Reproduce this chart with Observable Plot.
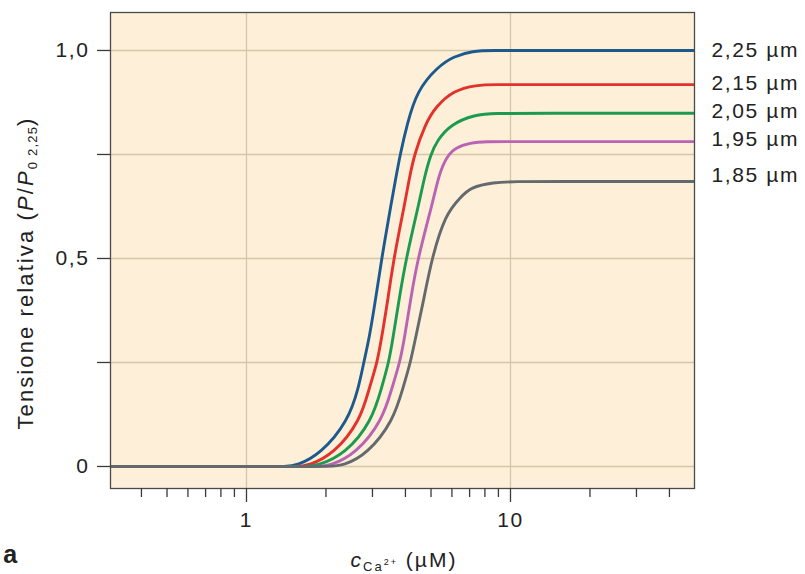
<!DOCTYPE html>
<html>
<head>
<meta charset="utf-8">
<script src="https://cdn.jsdelivr.net/npm/d3@7"></script>
<script src="https://cdn.jsdelivr.net/npm/@observablehq/plot@0.6"></script>
<style>
  body { margin: 0; background: #ffffff; }
  #chart svg { display: block; }
</style>
</head>
<body>
<div id="chart"></div>
<script>
// Sarcomere lengths (one curve each) and their line colours
const lengths = ["2,25 µm", "2,15 µm", "2,05 µm", "1,95 µm", "1,85 µm"];
const colors  = ["#1c5a8e", "#e2322b", "#1c9a50", "#b963b3", "#64696e"];

// Relative tension vs. Ca2+ concentration (µM), one pair of arrays per length
const x225 = [0.3, 0.8, 1.2, 1.4, 1.55, 1.91, 2.43, 2.66, 2.78, 2.92, 3.08, 3.25, 3.55, 3.67, 3.82, 4.06, 4.43, 5.28, 6.08, 7.2, 8.5, 12, 50];
const y225 = [0,   0,   0,   0,   0.002, 0.03, 0.11, 0.19, 0.25, 0.31, 0.40, 0.50, 0.64, 0.69, 0.75, 0.824, 0.904, 0.96, 0.986, 0.999, 1.0, 1.0, 1.0];

const x215 = [0.3, 0.8, 1.3, 1.55, 1.72, 2.14, 2.70, 2.92, 3.13, 3.27, 3.43, 3.61, 4.00, 4.13, 4.32, 4.76, 5.20, 6.08, 7.4, 8.8, 12, 50];
const y215 = [0,   0,   0,   0,    0.002, 0.03, 0.11, 0.19, 0.25, 0.32, 0.40, 0.50, 0.64, 0.69, 0.75, 0.824, 0.864, 0.904, 0.917, 0.918, 0.918, 0.918];

const x205 = [0.3, 0.8, 1.4, 1.68, 1.86, 2.37, 2.99, 3.25, 3.46, 3.59, 3.78, 4.02, 4.53, 4.70, 4.98, 5.28, 5.93, 7.3, 8.8, 12, 50];
const y205 = [0,   0,   0,   0,    0.002, 0.03, 0.11, 0.19, 0.25, 0.31, 0.40, 0.50, 0.64, 0.69, 0.75, 0.784, 0.822, 0.846, 0.849, 0.849, 0.849];

const x195 = [0.3, 0.8, 1.5, 1.85, 2.08, 2.59, 3.27, 3.56, 3.81, 3.97, 4.18, 4.45, 5.10, 5.35, 5.72, 6.20, 7.0, 8.2, 9.6, 12, 50];
const y195 = [0,   0,   0,   0,    0.002, 0.03, 0.11, 0.19, 0.25, 0.31, 0.40, 0.50, 0.64, 0.70, 0.745, 0.767, 0.778, 0.781, 0.781, 0.781, 0.781];

const x185 = [0.3, 0.8, 1.6, 2.05, 2.33, 2.87, 3.60, 3.92, 4.18, 4.37, 4.69, 5.03, 5.67, 6.47, 7.05, 8.6, 10.5, 14, 50];
const y185 = [0,   0,   0,   0,    0.002, 0.03, 0.11, 0.19, 0.25, 0.31, 0.40, 0.50, 0.607, 0.647, 0.671, 0.683, 0.685, 0.685, 0.685];

// Where each length label sits on the tension axis
const labelAt = [1.0, 0.921, 0.853, 0.786, 0.700];

// Axis ticks
const yTicks = [0, 0.25, 0.5, 0.75, 1];
const yTickLabels = ["0", "", "0,5", "", "1,0"];
const xMajor = [1, 10];
const xMinor = [0.4, 0.5, 0.6, 0.7, 0.8, 0.9, 2, 3, 4, 5, 6, 7, 8, 9, 20, 30, 40];

const seriesX = [x225, x215, x205, x195, x185];
const seriesY = [y225, y215, y205, y195, y185];
const rows = lengths.flatMap((len, k) =>
  seriesX[k].map((x, i) => ({len, x, y: seriesY[k][i]}))
);
const labels = lengths.map((len, k) => ({len, y: labelAt[k]}));

const xDomain = [0.3054, 49.77];
const yDomain = [-0.0529, 1.0913];
const font = "'Liberation Sans', Arial, Helvetica, sans-serif";

const chart = Plot.plot({
  width: 805,
  height: 574,
  marginLeft: 110,
  marginRight: 111,
  marginTop: 12,
  marginBottom: 86,
  style: {fontFamily: font, fontSize: "21px", color: "#222", background: "#ffffff", letterSpacing: "1.6px"},
  x: {type: "log", domain: xDomain},
  y: {domain: yDomain},
  color: {domain: lengths, range: colors},
  marks: [
    Plot.frame({fill: "#fdefd8", stroke: null}),
    Plot.gridX(xMajor, {stroke: "#d6c6a8", strokeOpacity: 1, strokeWidth: 1.3}),
    Plot.gridY(yTicks, {stroke: "#d6c6a8", strokeOpacity: 1, strokeWidth: 1.3}),
    Plot.line(rows, {x: "x", y: "y", z: "len", stroke: "len", strokeWidth: 2.9, curve: "basis", clip: true}),
    Plot.frame({stroke: "#4a4a4a", strokeWidth: 1.3}),
    Plot.axisY({
      ticks: yTicks, tickSize: 13, tickPadding: 8, stroke: "#3a3a3a", strokeWidth: 1.3,
      tickFormat: d => yTickLabels[yTicks.indexOf(d)], label: null, fontSize: 21
    }),
    Plot.axisX({
      ticks: xMajor, tickSize: 14, tickPadding: 10, stroke: "#3a3a3a", strokeWidth: 1.3,
      tickFormat: d => String(d), label: null, fontSize: 21
    }),
    Plot.axisX({
      ticks: xMinor, tickSize: 9, stroke: "#3a3a3a", strokeWidth: 1.3,
      tickFormat: () => "", label: null
    }),
    Plot.text(labels, {
      x: () => xDomain[1], y: "y", text: "len", dx: 17, textAnchor: "start",
      fontSize: 21, fill: "#222"
    })
  ]
});

const svg = d3.select(chart);

// Y-axis title: Tensione relativa (P/P0 2,25)
const yTitle = svg.append("text")
  .attr("transform", "translate(33,273) rotate(-90)")
  .attr("text-anchor", "middle")
  .attr("font-family", font)
  .attr("font-size", 22)
  .attr("letter-spacing", "2.1px")
  .attr("fill", "#222");
yTitle.append("tspan").text("Tensione relativa (");
yTitle.append("tspan").attr("font-style", "italic").text("P");
yTitle.append("tspan").text("/");
yTitle.append("tspan").attr("font-style", "italic").text("P");
yTitle.append("tspan").attr("font-size", 13).attr("dy", 4).attr("letter-spacing", "1.2px").text("0 2,25");
yTitle.append("tspan").attr("dy", -4).text(")");

// X-axis title: c Ca2+ (µM)
const xTitle = svg.append("text")
  .attr("x", 404).attr("y", 567)
  .attr("text-anchor", "middle")
  .attr("font-family", font)
  .attr("font-size", 21)
  .attr("letter-spacing", "2px")
  .attr("fill", "#222");
xTitle.append("tspan").attr("font-style", "italic").text("c");
xTitle.append("tspan").attr("font-size", 13).attr("dy", 4).text("Ca");
xTitle.append("tspan").attr("font-size", 9).attr("dy", -6).text("2+");
xTitle.append("tspan").attr("dy", 2).text(" (µM)");

// Panel letter
svg.append("text")
  .attr("x", 11).attr("y", 563)
  .attr("font-family", font)
  .attr("font-size", 25)
  .attr("font-weight", "bold")
  .attr("fill", "#222")
  .text("a");

document.getElementById("chart").append(chart);
</script>
</body>
</html>
